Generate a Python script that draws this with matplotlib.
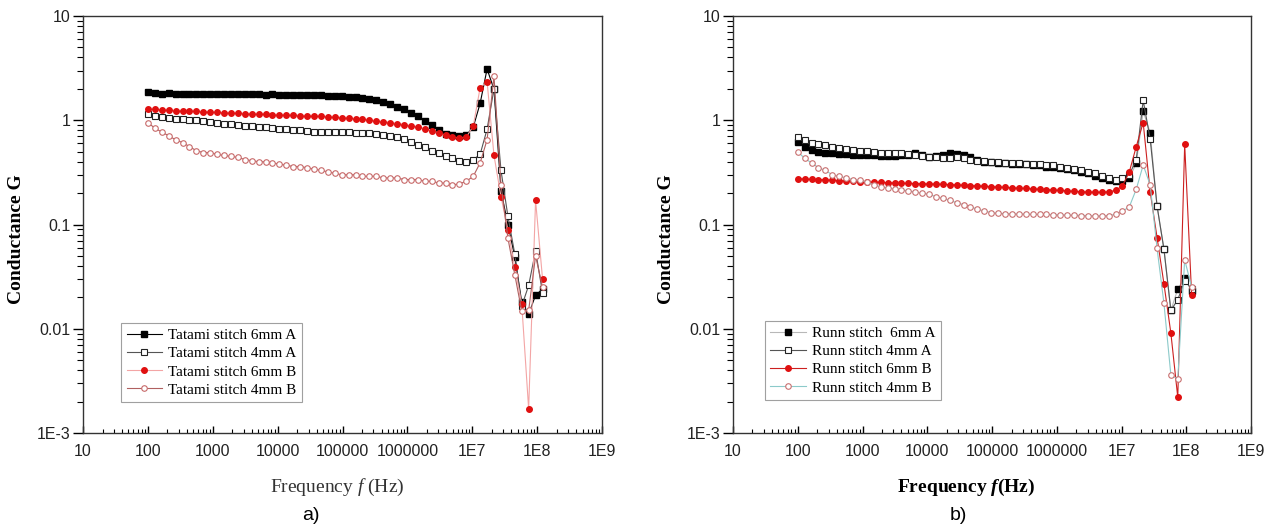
import matplotlib
matplotlib.use("Agg")
import matplotlib.pyplot as plt
from matplotlib.ticker import LogLocator, FixedLocator, FixedFormatter, NullFormatter

plt.rcParams['mathtext.fontset'] = 'custom'
plt.rcParams['mathtext.rm'] = 'Liberation Serif'
plt.rcParams['mathtext.it'] = 'Liberation Serif:italic'
plt.rcParams['mathtext.bfit'] = 'Liberation Serif:italic:bold'

# frequency sweep (Hz)
freq = [100, 128, 164, 209, 267, 342, 437, 558, 714, 913,
        1170, 1490, 1910, 2440, 3120, 3990, 5100, 6510, 8330, 10600,
        13600, 17400, 22300, 28500, 36400, 46500, 59500, 76000, 97200, 124000,
        159000, 203000, 260000, 332000, 424000, 543000, 694000, 887000, 1130000, 1450000,
        1850000, 2370000, 3030000, 3870000, 4950000, 6330000, 8100000, 10350000, 13200000, 16900000,
        21600000, 27700000, 35400000, 45200000, 57800000, 73900000, 94500000, 121000000]

# a) Tatami stitch
tat_6A = [1.88, 1.82, 1.78, 1.82, 1.80, 1.78, 1.80, 1.79, 1.78, 1.79,
          1.78, 1.78, 1.79, 1.78, 1.77, 1.77, 1.78, 1.76, 1.77, 1.76,
          1.75, 1.76, 1.75, 1.74, 1.74, 1.73, 1.72, 1.72, 1.70, 1.68,
          1.66, 1.63, 1.60, 1.56, 1.50, 1.43, 1.35, 1.27, 1.18, 1.09,
          0.99, 0.90, 0.81, 0.74, 0.72, 0.71, 0.72, 0.86, 1.45, 3.10,
          1.98, 0.21, 0.10, 0.049, 0.018, 0.0138, 0.021, 0.024]
tat_4A = [1.15, 1.10, 1.07, 1.05, 1.03, 1.02, 1.01, 1.00, 0.98, 0.97,
          0.95, 0.93, 0.92, 0.90, 0.89, 0.88, 0.87, 0.86, 0.84, 0.83,
          0.82, 0.81, 0.80, 0.79, 0.78, 0.78, 0.78, 0.77, 0.77, 0.77,
          0.76, 0.76, 0.75, 0.74, 0.73, 0.71, 0.69, 0.66, 0.62, 0.58,
          0.55, 0.51, 0.48, 0.45, 0.43, 0.41, 0.40, 0.42, 0.47, 0.82,
          2.00, 0.33, 0.12, 0.052, 0.0165, 0.026, 0.056, 0.022]
tat_6B = [1.28, 1.27, 1.26, 1.25, 1.24, 1.23, 1.22, 1.22, 1.21, 1.20,
          1.19, 1.18, 1.18, 1.17, 1.16, 1.15, 1.15, 1.14, 1.13, 1.13,
          1.12, 1.12, 1.11, 1.10, 1.10, 1.09, 1.08, 1.07, 1.06, 1.05,
          1.03, 1.02, 1.00, 0.98, 0.97, 0.95, 0.93, 0.91, 0.88, 0.86,
          0.83, 0.79, 0.76, 0.72, 0.69, 0.67, 0.69, 0.88, 2.05, 2.35,
          0.46, 0.185, 0.089, 0.039, 0.0173, 0.0017, 0.17, 0.030]
tat_4B = [0.95, 0.84, 0.77, 0.71, 0.65, 0.61, 0.56, 0.51, 0.49, 0.49,
          0.47, 0.46, 0.45, 0.44, 0.42, 0.41, 0.40, 0.40, 0.39, 0.38,
          0.37, 0.36, 0.36, 0.35, 0.34, 0.33, 0.32, 0.31, 0.30, 0.30,
          0.30, 0.29, 0.29, 0.29, 0.28, 0.28, 0.28, 0.27, 0.27, 0.27,
          0.26, 0.26, 0.25, 0.25, 0.24, 0.245, 0.26, 0.29, 0.39, 0.65,
          2.65, 0.24, 0.074, 0.033, 0.0148, 0.0150, 0.05, 0.025]

# b) Runn stitch
run_6A = [0.62, 0.55, 0.52, 0.50, 0.49, 0.48, 0.47, 0.47, 0.46, 0.46,
          0.46, 0.46, 0.45, 0.45, 0.45, 0.46, 0.46, 0.48, 0.46, 0.44,
          0.45, 0.46, 0.48, 0.47, 0.46, 0.44, 0.42, 0.40, 0.40, 0.39,
          0.39, 0.38, 0.38, 0.38, 0.37, 0.37, 0.36, 0.36, 0.35, 0.34,
          0.33, 0.32, 0.31, 0.29, 0.28, 0.27, 0.26, 0.26, 0.28, 0.385,
          1.22, 0.76, 0.15, 0.058, 0.015, 0.024, 0.031, 0.023]
run_4A = [0.69, 0.64, 0.61, 0.59, 0.58, 0.55, 0.54, 0.53, 0.52, 0.51,
          0.51, 0.50, 0.49, 0.49, 0.48, 0.48, 0.47, 0.46, 0.45, 0.44,
          0.44, 0.43, 0.43, 0.44, 0.43, 0.42, 0.41, 0.41, 0.40, 0.40,
          0.39, 0.39, 0.39, 0.38, 0.38, 0.38, 0.37, 0.37, 0.36, 0.35,
          0.34, 0.33, 0.32, 0.31, 0.29, 0.28, 0.27, 0.28, 0.30, 0.42,
          1.55, 0.66, 0.15, 0.058, 0.015, 0.019, 0.029, 0.024]
run_6B = [0.275, 0.273, 0.271, 0.27, 0.268, 0.266, 0.264, 0.262, 0.26, 0.258,
          0.256, 0.255, 0.254, 0.252, 0.25, 0.249, 0.248, 0.247, 0.246, 0.245,
          0.244, 0.243, 0.241, 0.24, 0.238, 0.236, 0.235, 0.233, 0.231, 0.229,
          0.227, 0.225, 0.223, 0.222, 0.22, 0.218, 0.216, 0.214, 0.212, 0.21,
          0.208, 0.206, 0.205, 0.204, 0.204, 0.206, 0.212, 0.235, 0.32, 0.56,
          0.95, 0.206, 0.075, 0.027, 0.0091, 0.0022, 0.59, 0.021]
run_4B = [0.50, 0.43, 0.39, 0.35, 0.33, 0.30, 0.29, 0.28, 0.27, 0.265,
          0.255, 0.24, 0.23, 0.225, 0.22, 0.215, 0.21, 0.205, 0.20, 0.195,
          0.185, 0.178, 0.17, 0.162, 0.155, 0.148, 0.14, 0.135, 0.13, 0.128,
          0.127, 0.127, 0.126, 0.126, 0.125, 0.125, 0.125, 0.124, 0.124, 0.123,
          0.123, 0.122, 0.122, 0.121, 0.121, 0.122, 0.125, 0.134, 0.148, 0.218,
          0.372, 0.24, 0.059, 0.0175, 0.0036, 0.0033, 0.046, 0.025]

xticks = [10, 100, 1000, 10000, 100000, 1000000, 1e7, 1e8, 1e9]
xtick_labels = ['10', '100', '1000', '10000', '100000', '1000000', '1E7', '1E8', '1E9']
yticks = [0.001, 0.01, 0.1, 1, 10]
ytick_labels = ['1E-3', '0.01', '0.1', '1', '10']

serif = 'Liberation Serif'
sans = 'Liberation Sans'

fig = plt.figure(figsize=(12.75, 5.3), dpi=100)
ax_a = fig.add_axes([0.0651, 0.183, 0.4071, 0.7868])
ax_b = fig.add_axes([0.5749, 0.183, 0.4063, 0.7868])

def style_axes(ax):
    ax.set_xscale('log')
    ax.set_yscale('log')
    ax.set_xlim(10, 1e9)
    ax.set_ylim(1e-3, 10)
    ax.xaxis.set_major_locator(FixedLocator(xticks))
    ax.xaxis.set_major_formatter(FixedFormatter(xtick_labels))
    ax.xaxis.set_minor_locator(LogLocator(base=10, subs=range(2, 10), numticks=20))
    ax.xaxis.set_minor_formatter(NullFormatter())
    ax.yaxis.set_major_locator(FixedLocator(yticks))
    ax.yaxis.set_major_formatter(FixedFormatter(ytick_labels))
    ax.yaxis.set_minor_locator(LogLocator(base=10, subs=range(2, 10), numticks=20))
    ax.yaxis.set_minor_formatter(NullFormatter())
    ax.tick_params(axis='x', which='major', direction='in', length=5, width=1, pad=8)
    ax.tick_params(axis='x', which='minor', direction='in', length=3, width=0.8)
    ax.tick_params(axis='y', which='major', direction='out', length=7, width=1, pad=2)
    ax.tick_params(axis='y', which='minor', direction='out', length=4, width=0.8)
    for lab in ax.get_xticklabels() + ax.get_yticklabels():
        lab.set_fontfamily(sans)
        lab.set_fontsize(11.5)
        lab.set_color('#222222')
    for sp in ax.spines.values():
        sp.set_linewidth(1.0)
        sp.set_color('#333333')
    ax.set_ylabel('Conductance G', fontfamily=serif, fontsize=14, fontweight='bold')
    ax.yaxis.set_label_coords(-0.112, 0.465)

# panel a
ax_a.plot(freq, tat_6A, color='black', lw=0.8, marker='s', ms=4, mfc='black', mec='black',
          label='Tatami stitch 6mm A')
ax_a.plot(freq, tat_4A, color='#555555', lw=0.8, marker='s', ms=4, mfc='white', mec='#222222',
          mew=0.8, label='Tatami stitch 4mm A')
ax_a.plot(freq, tat_6B, color='#f3a5a5', lw=0.8, marker='o', ms=4, mfc='#e01010', mec='#e01010',
          label='Tatami stitch 6mm B')
ax_a.plot(freq, tat_4B, color='#b06060', lw=0.8, marker='o', ms=4, mfc='white', mec='#c86a6a',
          mew=0.8, label='Tatami stitch 4mm B')
style_axes(ax_a)
ax_a.set_xlabel(r'Frequency $f$ (Hz)', fontfamily=serif, fontsize=14, color='#333333')
ax_a.xaxis.set_label_coords(0.49, -0.105)
leg_a = ax_a.legend(loc='lower left', bbox_to_anchor=(0.074, 0.074), prop={'family': serif, 'size': 11},
                    frameon=True, fancybox=False, edgecolor='#888888', handlelength=2.3,
                    labelspacing=0.3, borderpad=0.35, handletextpad=0.4, borderaxespad=0)
leg_a.get_frame().set_linewidth(0.8)

# panel b
ax_b.plot(freq, run_6A, color='#b8b8b8', lw=0.8, marker='s', ms=4, mfc='black', mec='black',
          label='Runn stitch  6mm A')
ax_b.plot(freq, run_4A, color='#555555', lw=0.8, marker='s', ms=4, mfc='white', mec='#222222',
          mew=0.8, label='Runn stitch 4mm A')
ax_b.plot(freq, run_6B, color='#cc2020', lw=0.8, marker='o', ms=4, mfc='#e01010', mec='#e01010',
          label='Runn stitch 6mm B')
ax_b.plot(freq, run_4B, color='#8ccaca', lw=0.8, marker='o', ms=4, mfc='white', mec='#c87070',
          mew=0.8, label='Runn stitch 4mm B')
style_axes(ax_b)
ax_b.set_xlabel(r'Frequency $\mathbfit{f}$(Hz)', fontfamily=serif, fontsize=14, fontweight='bold')
ax_b.xaxis.set_label_coords(0.45, -0.105)
leg_b = ax_b.legend(loc='lower left', bbox_to_anchor=(0.062, 0.079), prop={'family': serif, 'size': 11},
                    frameon=True, fancybox=False, edgecolor='#888888', handlelength=2.3,
                    labelspacing=0.3, borderpad=0.35, handletextpad=0.4, borderaxespad=0)
leg_b.get_frame().set_linewidth(0.8)

fig.text(311 / 1275, 1 - 515 / 530, 'a)', ha='center', va='center', fontfamily=sans, fontsize=14)
fig.text(958 / 1275, 1 - 515 / 530, 'b)', ha='center', va='center', fontfamily=sans, fontsize=14)

fig.savefig('out.png', dpi=100, facecolor='white')
